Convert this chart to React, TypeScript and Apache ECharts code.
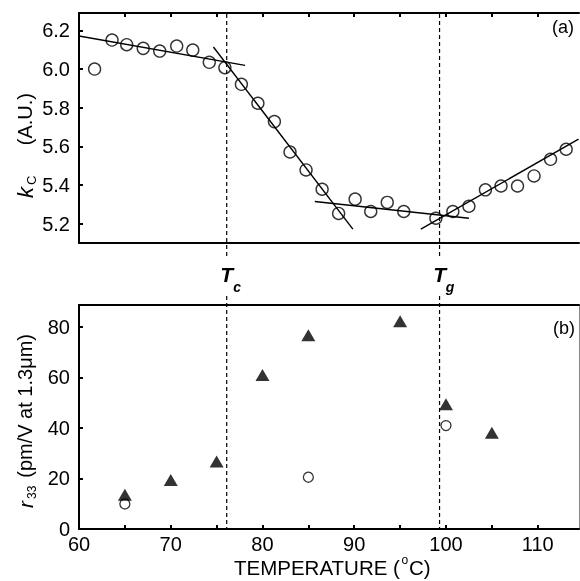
import React, { useEffect, useRef } from 'react';
import * as echarts from 'echarts';

// ---- data ----
const kcTemps = [61.7, 63.6, 65.2, 67.0, 68.8, 70.65, 72.4, 74.2, 75.9, 77.7, 79.5, 81.3, 83.0, 84.75, 86.5, 88.3, 90.1, 91.8, 93.6, 95.4, 98.9, 100.75, 102.5, 104.3, 106.0, 107.8, 109.6, 111.4, 113.1];
const kcValues = [6.0, 6.15, 6.126, 6.107, 6.093, 6.119, 6.098, 6.035, 6.007, 5.921, 5.823, 5.728, 5.571, 5.478, 5.378, 5.253, 5.327, 5.263, 5.31, 5.263, 5.228, 5.263, 5.29, 5.375, 5.395, 5.395, 5.447, 5.533, 5.585];

const fitA = [[60, 6.171], [78.1, 6.019]];
const fitB = [[74.65, 6.114], [89.85, 5.172]];
const fitC = [[85.7, 5.315], [102.5, 5.228]];
const fitD = [[97.26, 5.172], [114.45, 5.637]];

const r33TriTemps = [65, 70, 75, 80, 85, 95, 100, 105];
const r33TriValues = [13.5, 19.4, 26.7, 60.9, 76.6, 82.2, 49.3, 38.1];
const r33CircTemps = [65, 85, 100];
const r33CircValues = [9.9, 20.5, 40.9];

const transitionTemps = [76.1, 99.3];
const transitionSubs = ['c', 'g'];

const xLabelValues = [60, 70, 80, 90, 100, 110];
const xTickValues = [65, 70, 75, 80, 85, 90, 95, 100, 105, 110];
const kcTickValues = [5.2, 5.4, 5.6, 5.8, 6.0, 6.2];
const r33TickValues = [0, 20, 40, 60, 80];

const FONT = "'Liberation Sans', Arial, Helvetica, sans-serif";
const BLACK = '#000';

const zip = (a: number[], b: number[]) => a.map((v, i) => [v, b[i]]);

export default function App() {
  const ref = useRef<HTMLDivElement>(null);
  useEffect(() => {
    const chart = echarts.init(ref.current!, null, { renderer: 'svg' });
    const axisLine = { show: true, onZero: false, lineStyle: { color: BLACK, width: 2 } };
    const labelStyle = { color: BLACK, fontFamily: FONT, fontSize: 20 };
    const fitSeries = (data: number[][]) => ({
      type: 'line', xAxisIndex: 0, yAxisIndex: 0, data, showSymbol: false, symbol: 'none',
      lineStyle: { color: BLACK, width: 1.4 }, silent: true, z: 2,
    });
    const option: any = {
      animation: false,
      grid: [
        { left: 79, top: 13, width: 500, height: 230 },
        { left: 79, top: 305, width: 500, height: 224 },
      ],
      xAxis: [
        { gridIndex: 0, type: 'value', min: 60, max: 114.5, position: 'bottom', axisLine,
          axisTick: { show: false }, axisLabel: { show: false }, splitLine: { show: false } },
        { gridIndex: 0, type: 'value', min: 60, max: 114.5, position: 'top', axisLine,
          axisTick: { show: true, inside: true, length: 4, customValues: xTickValues, lineStyle: { color: BLACK, width: 2 } },
          axisLabel: { show: false }, splitLine: { show: false } },
        { gridIndex: 1, type: 'value', min: 60, max: 114.5, position: 'bottom', axisLine,
          axisTick: { show: true, inside: true, length: 4, customValues: xTickValues, lineStyle: { color: BLACK, width: 2 } },
          axisLabel: { ...labelStyle, customValues: xLabelValues, margin: 5, lineHeight: 20 }, splitLine: { show: false } },
        { gridIndex: 1, type: 'value', min: 60, max: 114.5, position: 'top', axisLine,
          axisTick: { show: false }, axisLabel: { show: false }, splitLine: { show: false } },
      ],
      yAxis: [
        { gridIndex: 0, type: 'value', min: 5.1, max: 6.29, position: 'left', axisLine,
          axisTick: { show: true, inside: true, length: 4, customValues: kcTickValues, lineStyle: { color: BLACK, width: 2 } },
          axisLabel: { ...labelStyle, customValues: kcTickValues, margin: 9, formatter: (v: number) => v.toFixed(1) },
          splitLine: { show: false } },
        { gridIndex: 1, type: 'value', min: 0, max: 88.6, position: 'left', axisLine,
          axisTick: { show: true, inside: true, length: 4, customValues: r33TickValues, lineStyle: { color: BLACK, width: 2 } },
          axisLabel: { ...labelStyle, customValues: r33TickValues, margin: 9 },
          splitLine: { show: false } },
        { gridIndex: 1, type: 'value', min: 0, max: 88.6, position: 'right',
          axisLine: { show: true, onZero: false, lineStyle: { color: '#888', width: 1 } },
          axisTick: { show: false }, axisLabel: { show: false }, splitLine: { show: false } },
      ],
      series: [
        fitSeries(fitA), fitSeries(fitB), fitSeries(fitC), fitSeries(fitD),
        { type: 'scatter', xAxisIndex: 0, yAxisIndex: 0, data: zip(kcTemps, kcValues),
          symbol: 'circle', symbolSize: 12, z: 3,
          itemStyle: { color: 'rgba(255,255,255,0)', borderColor: BLACK, borderWidth: 1.4 } },
        { type: 'scatter', xAxisIndex: 2, yAxisIndex: 1, data: zip(r33TriTemps, r33TriValues),
          symbol: 'triangle', symbolSize: [14, 12], itemStyle: { color: BLACK } },
        { type: 'scatter', xAxisIndex: 2, yAxisIndex: 1, data: zip(r33CircTemps, r33CircValues),
          symbol: 'circle', symbolSize: 10,
          itemStyle: { color: 'rgba(255,255,255,0)', borderColor: BLACK, borderWidth: 1.3 } },
      ],
    };
    chart.setOption(option);

    const txt = (text: string, x: number, y: number, size: number, extra: any = {}, align = 'left') => ({
      type: 'text', x, y, silent: true,
      style: { text, fill: BLACK, fontFamily: FONT, fontSize: size, align, verticalAlign: 'middle',
        textAlign: align, textVerticalAlign: 'middle', ...extra },
    });

    const graphics: any[] = [];
    transitionTemps.forEach((t, i) => {
      const x = chart.convertToPixel({ xAxisIndex: 0 }, t) as number;
      const dash = { stroke: BLACK, lineWidth: 1.2, lineDash: [4, 3] };
      graphics.push({ type: 'line', silent: true, shape: { x1: x, y1: 14, x2: x, y2: 258 }, style: dash });
      graphics.push({ type: 'line', silent: true, shape: { x1: x, y1: 296, x2: x, y2: 528 }, style: dash });
      graphics.push(txt('T', x, 274, 21, { fontWeight: 'bold', fontStyle: 'italic' }, 'center'));
      graphics.push(txt(transitionSubs[i], x + 10.5, 287, 14, { fontWeight: 'bold', fontStyle: 'italic' }, 'center'));
    });

    // y axis title (top)
    graphics.push({
      type: 'group', x: 25, y: 145, rotation: Math.PI / 2, silent: true,
      children: [
        txt('k', -53, 0, 22, { fontStyle: 'italic' }),
        txt('C', -40, 6, 13),
        txt('(A.U.)', 52, 0, 20, {}, 'right'),
      ],
    });
    // y axis title (bottom)
    graphics.push({
      type: 'group', x: 25, y: 420, rotation: Math.PI / 2, silent: true,
      children: [
        txt('r', -88, 0, 21, { fontStyle: 'italic' }),
        txt('33', -79, 7, 12),
        txt('(pm/V at 1.3μm)', 86, 0, 20, {}, 'right'),
      ],
    });
    // x axis title
    graphics.push(txt('TEMPERATURE (', 234, 567.5, 20.5));
    graphics.push(txt('o', 401.5, 560, 12));
    graphics.push(txt('C)', 409, 567.5, 20.5));
    // panel letters
    graphics.push(txt('(a)', 574, 27, 18, {}, 'right'));
    graphics.push(txt('(b)', 575, 328, 18, {}, 'right'));

    chart.setOption({ graphic: graphics });
    return () => chart.dispose();
  }, []);
  return <div ref={ref} style={{ position: 'fixed', left: 0, top: 0, width: 580, height: 581 }} />;
}
